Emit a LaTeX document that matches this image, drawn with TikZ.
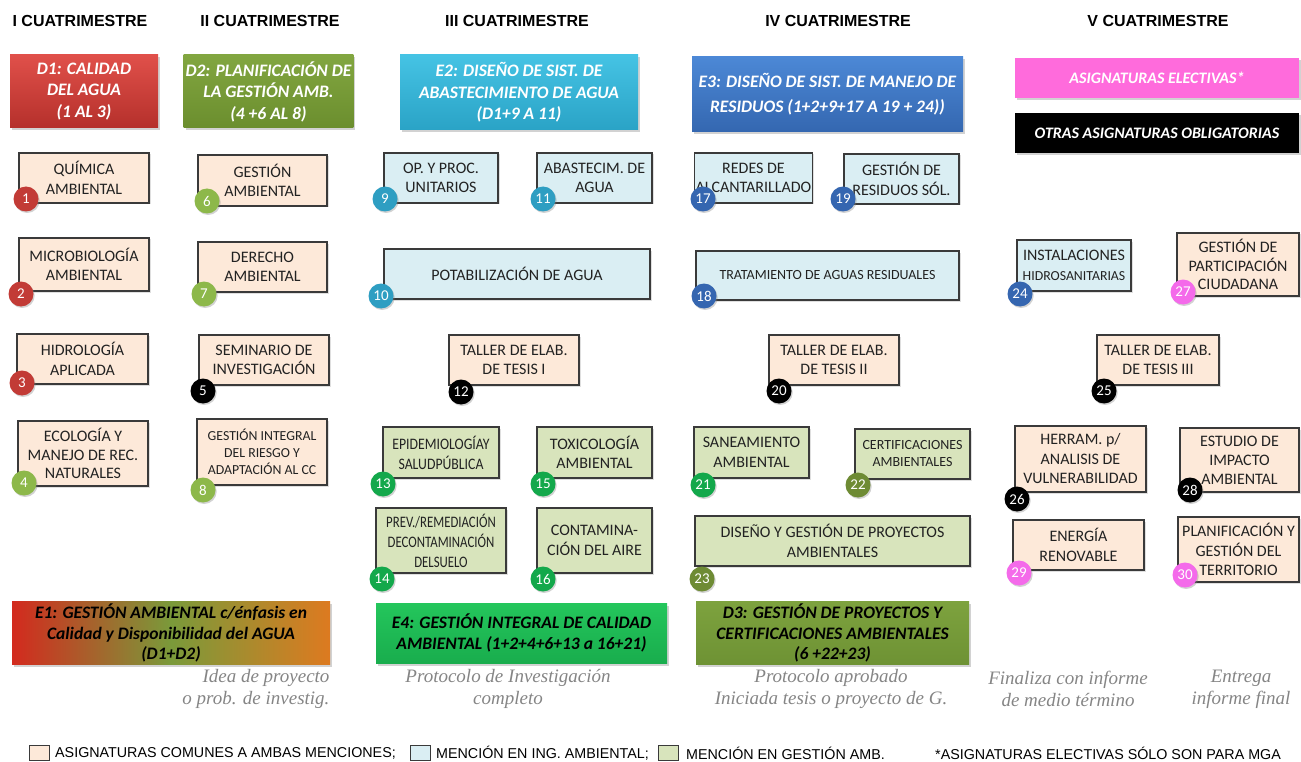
\documentclass[tikz,border=0pt]{standalone}
\usepackage{fontspec}
\setmainfont{Carlito}
\newfontfamily\arialf{Liberation Sans}
\newfontfamily\timesf{Liberation Serif}
\newfontfamily\condf[FakeStretch=0.86]{Carlito}
\newfontfamily\condg[FakeStretch=0.8]{Carlito}
\usetikzlibrary{shadows}

\definecolor{peach}{HTML}{FDE9D9}
\definecolor{lblue}{HTML}{DAEEF3}
\definecolor{lgreen}{HTML}{D8E4BC}
\definecolor{boxdraw}{HTML}{3A3A3A}
\definecolor{boxtext}{HTML}{222222}
\definecolor{capgray}{HTML}{858585}
\definecolor{cred}{HTML}{C23B36}
\definecolor{colive}{HTML}{8DB84A}
\definecolor{cteal}{HTML}{2E9EC2}
\definecolor{cblue}{HTML}{3566B0}
\definecolor{cgreen}{HTML}{13A84B}
\definecolor{cdolive}{HTML}{6E8B34}
\definecolor{cpink}{HTML}{F46AEA}
\definecolor{dredt}{HTML}{E0504A}
\definecolor{dredb}{HTML}{B5302B}
\definecolor{doliv}{HTML}{82A640}
\definecolor{dolivb}{HTML}{6B8E2E}
\definecolor{ecyant}{HTML}{45C3E4}
\definecolor{ecyanb}{HTML}{2AA3C6}
\definecolor{ebluet}{HTML}{4C88D6}
\definecolor{ebluet2}{HTML}{3467B0}
\definecolor{epink}{HTML}{FF6BDC}
\definecolor{egreen}{HTML}{24C65C}
\definecolor{egreenb}{HTML}{19AD4D}
\definecolor{eolive}{HTML}{7DA23E}
\definecolor{eoliveb}{HTML}{6E9234}
\definecolor{e1red}{HTML}{D32A1E}
\definecolor{e1green}{HTML}{7A9A3A}
\definecolor{e1orange}{HTML}{DD7A20}

\tikzset{
  cbox/.style={draw=boxdraw, line width=1.1pt, inner sep=1pt, align=center,
    text=boxtext, font=\fontsize{16}{19.5}\selectfont,
    drop shadow={shadow xshift=1.5pt, shadow yshift=-1.5pt, opacity=0.25}},
  hbox/.style={inner sep=2pt, align=center, text=white,
    font=\bfseries\itshape\fontsize{17.5}{21.5}\selectfont,
    drop shadow={shadow xshift=2pt, shadow yshift=-2.5pt, opacity=0.35}},
  ebox/.style={hbox, text=black, font=\bfseries\itshape\fontsize{17.5}{20.5}\selectfont},
  num/.style={circle, fill=#1, minimum size=25pt, inner sep=0pt, text=white,
    font=\fontsize{15}{15}\selectfont,
    drop shadow={shadow xshift=1.2pt, shadow yshift=-1.5pt, opacity=0.35}},
  capt/.style={text=capgray, font=\timesf\itshape\fontsize{19}{22}\selectfont, align=center},
  head/.style={font=\arialf\bfseries\fontsize{16}{16}\selectfont},
  leg/.style={font=\arialf\fontsize{14.3}{14.3}\selectfont, anchor=west, inner sep=0pt},
  legsq/.style={draw=boxdraw, line width=1pt, minimum width=20pt, minimum height=15pt, inner sep=0pt}
}

\newcommand\rectnode[7]{\node[#6, minimum width={#4-#2}, minimum height={#5-#3}] (#1) at ({(#2+#4)/2},{(#3+#5)/2}) {#7};}

\begin{document}
\begin{tikzpicture}[x=1pt, y=-1pt]
\useasboundingbox[fill=white] (0,0) rectangle (1301,762);

% headers
\node[head] (h1) at (80,21) {I CUATRIMESTRE};
\node[head] (h2) at (270,21) {II CUATRIMESTRE};
\node[head] (h3) at (517,21) {III CUATRIMESTRE};
\node[head] (h4) at (838,21) {IV CUATRIMESTRE};
\node[head] (h5) at (1158,21) {V CUATRIMESTRE};

% top coloured boxes
\rectnode{d1}{10}{55}{158}{128}{hbox, top color=dredt, bottom color=dredb}{D1: CALIDAD\\DEL AGUA\\(1 AL 3)}
\rectnode{d2}{185}{55}{352}{128}{hbox, top color=doliv, bottom color=dolivb}{D2: PLANIFICACIÓN DE\\LA GESTIÓN AMB.\\(4 +6 AL 8)}
\rectnode{e2}{400}{55}{638}{130}{hbox, top color=ecyant, bottom color=ecyanb}{E2: DISEÑO DE SIST. DE\\ABASTECIMIENTO DE AGUA\\(D1+9 A 11)}
\rectnode{e3}{692}{57}{963}{132}{hbox, top color=ebluet, bottom color=ebluet2, font=\bfseries\itshape\fontsize{17.5}{25}\selectfont}{E3: DISEÑO DE SIST. DE MANEJO DE\\RESIDUOS (1+2+9+17 A 19 + 24))}
\rectnode{el}{1015}{58}{1299}{98}{hbox, fill=epink, font=\bfseries\itshape\fontsize{16}{18}\selectfont}{ASIGNATURAS ELECTIVAS*}
\rectnode{ob}{1015}{113}{1299}{153}{hbox, fill=black, font=\bfseries\itshape\fontsize{16}{18}\selectfont}{OTRAS ASIGNATURAS OBLIGATORIAS}

% peach boxes
\rectnode{b1}{19}{153}{149}{203}{cbox, fill=peach}{QUÍMICA\\AMBIENTAL}
\rectnode{b2}{19}{238}{149}{291}{cbox, fill=peach}{MICROBIOLOGÍA\\AMBIENTAL}
\rectnode{b3}{17}{334}{148}{384}{cbox, fill=peach}{HIDROLOGÍA\\APLICADA}
\rectnode{b4}{18}{421}{148}{486}{cbox, fill=peach, font=\fontsize{16}{18.5}\selectfont}{ECOLOGÍA Y\\MANEJO DE REC.\\NATURALES}
\rectnode{b6}{198}{155}{327}{206}{cbox, fill=peach}{GESTIÓN\\AMBIENTAL}
\rectnode{b7}{198}{242}{327}{292}{cbox, fill=peach}{DERECHO\\AMBIENTAL}
\rectnode{b5}{199}{335}{329}{385}{cbox, fill=peach}{SEMINARIO DE\\INVESTIGACIÓN}
\rectnode{b8}{197}{419}{327}{485}{cbox, fill=peach, font=\fontsize{13.8}{17}\selectfont}{GESTIÓN INTEGRAL\\DEL RIESGO Y\\ADAPTACIÓN AL CC}
\rectnode{b12}{449}{335}{579}{385}{cbox, fill=peach}{TALLER DE ELAB.\\DE TESIS I}
\rectnode{b20}{769}{335}{899}{385}{cbox, fill=peach}{TALLER DE ELAB.\\DE TESIS II}
\rectnode{b25}{1097}{335}{1219}{385}{cbox, fill=peach}{TALLER DE ELAB.\\DE TESIS III}
\rectnode{b27}{1177}{233}{1299}{296}{cbox, fill=peach, font=\fontsize{16}{18.5}\selectfont}{GESTIÓN DE\\PARTICIPACIÓN\\CIUDADANA}
\rectnode{b26}{1015}{426}{1146}{492}{cbox, fill=peach, font=\fontsize{16}{19.5}\selectfont}{HERRAM. p/\\ANALISIS DE\\VULNERABILIDAD}
\rectnode{b28}{1180}{428}{1299}{492}{cbox, fill=peach, font=\fontsize{16}{19}\selectfont}{ESTUDIO DE\\IMPACTO\\AMBIENTAL}
\rectnode{b29}{1013}{520}{1144}{570}{cbox, fill=peach}{ENERGÍA\\RENOVABLE}
\rectnode{b30}{1178}{517}{1299}{582}{cbox, fill=peach, font=\fontsize{16}{19.5}\selectfont}{PLANIFICACIÓN Y\\GESTIÓN DEL\\TERRITORIO}

% light blue boxes
\rectnode{b9}{384}{153}{498}{203}{cbox, fill=lblue}{OP. Y PROC.\\UNITARIOS}
\rectnode{b11}{537}{153}{652}{203}{cbox, fill=lblue}{ABASTECIM. DE\\AGUA}
\rectnode{b10}{384}{249}{650}{299}{cbox, fill=lblue}{POTABILIZACIÓN DE AGUA}
\rectnode{b17}{696}{153}{811}{203}{cbox, fill=lblue}{REDES DE\\ALCANTARILLADO}
\rectnode{b19}{844}{154}{959}{204}{cbox, fill=lblue}{GESTIÓN DE\\RESIDUOS SÓL.}
\rectnode{b18}{696}{251}{959}{300}{cbox, fill=lblue, font=\fontsize{14}{17}\selectfont}{TRATAMIENTO DE AGUAS RESIDUALES}
\rectnode{b24}{1017}{240}{1131}{291}{cbox, fill=lblue}{INSTALACIONES\\{\fontsize{13.8}{17}\selectfont HIDROSANITARIAS}}

% light green boxes
\rectnode{b13}{383}{427}{499}{478}{cbox, fill=lgreen, font=\condf\fontsize{16}{20}\selectfont}{EPIDEMIOLOGÍAY\\SALUDPÚBLICA}
\rectnode{b15}{537}{427}{652}{478}{cbox, fill=lgreen}{TOXICOLOGÍA\\AMBIENTAL}
\rectnode{b14}{376}{508}{506}{573}{cbox, fill=lgreen, font=\condg\fontsize{16}{20}\selectfont}{PREV./REMEDIACIÓN\\DECONTAMINACIÓN\\DELSUELO}
\rectnode{b16}{537}{508}{652}{573}{cbox, fill=lgreen}{CONTAMINA-\\CIÓN DEL AIRE}
\rectnode{b21}{694}{427}{809}{478}{cbox, fill=lgreen}{SANEAMIENTO\\AMBIENTAL}
\rectnode{b22}{855}{429}{970}{479}{cbox, fill=lgreen, font=\fontsize{14}{17}\selectfont}{CERTIFICACIONES\\AMBIENTALES}
\rectnode{b23}{695}{516}{970}{566}{cbox, fill=lgreen}{DISEÑO Y GESTIÓN DE PROYECTOS\\AMBIENTALES}

% numbered circles
\node[num=cred] (n1) at (26,199) {1};
\node[num=cred] (n2) at (21,294) {2};
\node[num=cred] (n3) at (22,383) {3};
\node[num=colive] (n4) at (24,483) {4};
\node[num=black] (n5) at (203,391) {5};
\node[num=colive] (n6) at (207,201) {6};
\node[num=colive] (n7) at (204,294) {7};
\node[num=colive] (n8) at (203,490) {8};
\node[num=cteal] (n9) at (385,199) {9};
\node[num=cteal] (n10) at (381,296) {10};
\node[num=cteal] (n11) at (543,199) {11};
\node[num=black] (n12) at (461,392) {12};
\node[num=cgreen] (n13) at (383,484) {13};
\node[num=cgreen] (n14) at (382,579) {14};
\node[num=cgreen] (n15) at (543,484) {15};
\node[num=cgreen] (n16) at (543,579) {16};
\node[num=cblue] (n17) at (703,199) {17};
\node[num=cblue] (n18) at (704,296) {18};
\node[num=cblue] (n19) at (843,199) {19};
\node[num=black] (n20) at (779,391) {20};
\node[num=cgreen] (n21) at (703,485) {21};
\node[num=cdolive] (n22) at (858,485) {22};
\node[num=cdolive] (n23) at (702,579) {23};
\node[num=cblue] (n24) at (1020,294) {24};
\node[num=black] (n25) at (1104,391) {25};
\node[num=black] (n26) at (1017,499) {26};
\node[num=cpink] (n27) at (1183,292) {27};
\node[num=black] (n28) at (1190,490) {28};
\node[num=cpink] (n29) at (1019,573) {29};
\node[num=cpink] (n30) at (1185,575) {30};

% bottom boxes
\rectnode{e1}{12}{603}{330}{663}{ebox, left color=e1red, right color=e1orange, middle color=e1green}{E1: GESTIÓN AMBIENTAL c/énfasis en\\Calidad y Disponibilidad del AGUA\\(D1+D2)}
\rectnode{e4}{376}{603}{667}{663}{ebox, top color=egreen, bottom color=egreenb, font=\bfseries\itshape\fontsize{17.5}{21.5}\selectfont}{E4: GESTIÓN INTEGRAL DE CALIDAD\\AMBIENTAL (1+2+4+6+13 a 16+21)}
\rectnode{d3}{696}{603}{969}{663}{ebox, top color=eolive, bottom color=eoliveb}{D3: GESTIÓN DE PROYECTOS Y\\CERTIFICACIONES AMBIENTALES\\(6 +22+23)}

% captions
\node[capt, align=right, anchor=east] (k1) at (333,689) {Idea de proyecto\\o prob. de investig.};
\node[capt] (k2) at (508,689) {Protocolo de Investigación\\completo};
\node[capt] (k3) at (831,689) {Protocolo aprobado\\Iniciada tesis o proyecto de G.};
\node[capt] (k4) at (1068,689) {Finaliza con informe\\de medio término};
\node[capt] (k5) at (1241,689) {Entrega\\informe final};

% legend
\node[legsq, fill=peach] (s1) at (39,753) {};
\node[leg] (l1) at (55,753) {ASIGNATURAS COMUNES A AMBAS MENCIONES;};
\node[legsq, fill=lblue] (s2) at (420,753) {};
\node[leg] (l2) at (436,753) {MENCIÓN EN ING. AMBIENTAL;};
\node[legsq, fill=lgreen] (s3) at (668,753) {};
\node[leg] (l3) at (686,753) {MENCIÓN EN GESTIÓN AMB.};
\node[leg] (l4) at (935,753) {*ASIGNATURAS ELECTIVAS SÓLO SON PARA MGA};
\end{tikzpicture}
\end{document}
